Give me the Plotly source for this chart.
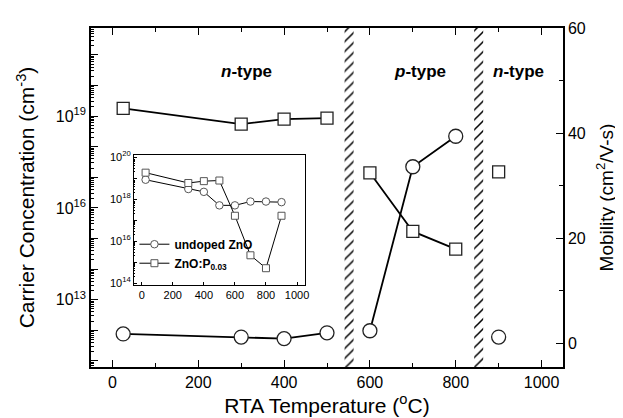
import plotly.graph_objects as go

# ---------------- data ----------------
temps = [25, 300, 400, 500, 600, 700, 800, 900]
regime = ["n", "n", "n", "n", "p", "p", "p", "n2"]
carrier_conc = [1.8e19, 5.5e18, 8.0e18, 8.6e18, 1.4e17, 1.7e15, 4.5e14, 1.5e17]
mobility = [1.8, 1.2, 0.9, 2.0, 2.4, 33.6, 39.4, 1.2]

inset_temps = [25, 300, 400, 500, 600, 700, 800, 900]
inset_undoped = [8.3e18, 3.0e18, 2.2e18, 5.0e17, 5.0e17, 7.6e17, 7.6e17, 7.1e17]
inset_p = [1.8e19, 5.8e18, 7.1e18, 7.6e18, 1.6e17, 2.1e15, 5.1e14, 1.6e17]

boundary_centers = [551.5, 853.5]
boundary_widths = [21, 21]

region_labels = ["<b><i>n</i>-type</b>", "<b><i>p</i>-type</b>", "<b><i>n</i>-type</b>"]
region_label_x = [312, 716, 946]

left_labeled_decades = [13, 16, 19]
inset_labeled_decades = [14, 16, 18, 20]

FONT = "Liberation Sans, Arial, sans-serif"


def with_gaps(xs, ys, groups):
    ox, oy = [], []
    prev = None
    for x, y, g in zip(xs, ys, groups):
        if prev is not None and g != prev:
            ox.append(None)
            oy.append(None)
        ox.append(x)
        oy.append(y)
        prev = g
    return ox, oy


fig = go.Figure()

# hatched regime boundaries
fig.add_trace(go.Bar(
    x=boundary_centers, y=[64.5] * len(boundary_centers), base=-4.5,
    width=boundary_widths, xaxis="x", yaxis="y2",
    marker=dict(color="white", line=dict(width=0),
                pattern=dict(shape="/", fgcolor="black", bgcolor="white",
                             size=7, solidity=0.22, fgopacity=1)),
    showlegend=False, hoverinfo="skip"))

sx, sy = with_gaps(temps, carrier_conc, regime)
fig.add_trace(go.Scatter(
    x=sx, y=sy, mode="lines+markers", xaxis="x", yaxis="y",
    line=dict(color="black", width=1.8),
    marker=dict(symbol="square", size=12, color="white",
                line=dict(color="#222", width=1.3)),
    showlegend=False, connectgaps=False))

cx, cy = with_gaps(temps, mobility, regime)
fig.add_trace(go.Scatter(
    x=cx, y=cy, mode="lines+markers", xaxis="x", yaxis="y2",
    line=dict(color="black", width=1.8),
    marker=dict(symbol="circle", size=14, color="white",
                line=dict(color="#222", width=1.3)),
    showlegend=False, connectgaps=False))

# inset
fig.add_trace(go.Scatter(
    x=inset_temps, y=inset_undoped, mode="lines+markers", xaxis="x3", yaxis="y3",
    name="<b>undoped ZnO</b>",
    line=dict(color="black", width=1),
    marker=dict(symbol="circle", size=7.5, color="white",
                line=dict(color="#555", width=1))))
fig.add_trace(go.Scatter(
    x=inset_temps, y=inset_p, mode="lines+markers", xaxis="x3", yaxis="y3",
    name="<b>ZnO:P<sub>0.03</sub></b>",
    line=dict(color="black", width=1),
    marker=dict(symbol="square", size=7, color="white",
                line=dict(color="#555", width=1))))

left_decades = list(range(11, 22))
left_tickvals = [10.0 ** k for k in left_decades]
left_ticktext = [f"10<sup>{k}</sup>" if k in left_labeled_decades else "" for k in left_decades]
left_minor = [m * 10.0 ** k for k in range(10, 22) for m in range(2, 10)]

inset_decades = list(range(14, 21))
inset_tickvals = [10.0 ** k for k in inset_decades]
inset_ticktext = [f"10<sup>{k}</sup>" if k in inset_labeled_decades else "" for k in inset_decades]
inset_minor = [m * 10.0 ** k for k in range(13, 21) for m in range(2, 10)]

for txt, xv in zip(region_labels, region_label_x):
    fig.add_annotation(x=xv, xref="x", y=0.905, yref="paper", text=txt,
                       showarrow=False, font=dict(size=17, color="black", family=FONT))

fig.update_layout(
    width=623, height=418, autosize=False,
    margin=dict(l=83, r=68, t=15, b=56),
    paper_bgcolor="white", plot_bgcolor="white",
    font=dict(family=FONT, color="black"),
    barmode="overlay",
    xaxis=dict(domain=[0, 1], range=[-50, 1050], anchor="y",
               tickmode="linear", tick0=0, dtick=200,
               ticks="inside", ticklen=7, tickwidth=1.2, tickcolor="black",
               minor=dict(dtick=100, ticks="inside", ticklen=4, tickcolor="black"),
               showline=True, linecolor="black", linewidth=1.5, mirror="ticks",
               showgrid=False, zeroline=False,
               tickfont=dict(size=16),
               title=dict(text="RTA Temperature (<sup>o</sup>C)", font=dict(size=21), standoff=8)),
    yaxis=dict(type="log", range=[10.8, 21.88], anchor="x",
               tickmode="array", tickvals=left_tickvals, ticktext=left_ticktext,
               ticks="inside", ticklen=7, tickwidth=1.2, tickcolor="black",
               minor=dict(tickmode="array", tickvals=left_minor, ticks="inside",
                          ticklen=3, tickcolor="black"),
               showline=True, linecolor="black", linewidth=1.5,
               showgrid=False, zeroline=False,
               tickfont=dict(size=16),
               title=dict(text="Carrier Concentration (cm<sup>-3</sup>)", font=dict(size=21))),
    yaxis2=dict(overlaying="y", side="right", anchor="x", range=[-4.5, 60],
                tickmode="linear", tick0=0, dtick=20,
                ticks="inside", ticklen=7, tickwidth=1.2, tickcolor="black",
                minor=dict(dtick=10, ticks="inside", ticklen=4, tickcolor="black"),
                showline=True, linecolor="black", linewidth=1.5,
                showgrid=False, zeroline=False,
                tickfont=dict(size=16),
                title=dict(text="Mobility (cm<sup>2</sup>/V-s)", font=dict(size=19))),
    xaxis3=dict(domain=[0.091, 0.453], anchor="y3", range=[-50, 1050],
                tickmode="linear", tick0=0, dtick=200,
                ticks="inside", ticklen=3, tickcolor="black",
                showline=True, linecolor="black", linewidth=1, mirror=True,
                showgrid=False, zeroline=False, tickfont=dict(size=11)),
    yaxis3=dict(domain=[0.242, 0.625], anchor="x3", type="log", range=[13.91, 20.09],
                tickmode="array", tickvals=inset_tickvals, ticktext=inset_ticktext,
                ticks="inside", ticklen=3, tickcolor="black",
                minor=dict(tickmode="array", tickvals=inset_minor, ticks="inside",
                           ticklen=1.5, tickcolor="black"),
                showline=True, linecolor="black", linewidth=1, mirror=True,
                showgrid=False, zeroline=False, tickfont=dict(size=11)),
    legend=dict(x=0.092, y=0.405, xanchor="left", yanchor="top",
                bgcolor="rgba(0,0,0,0)", font=dict(size=12), tracegroupgap=0,
                itemwidth=30),
)

fig.write_html("out.html")
